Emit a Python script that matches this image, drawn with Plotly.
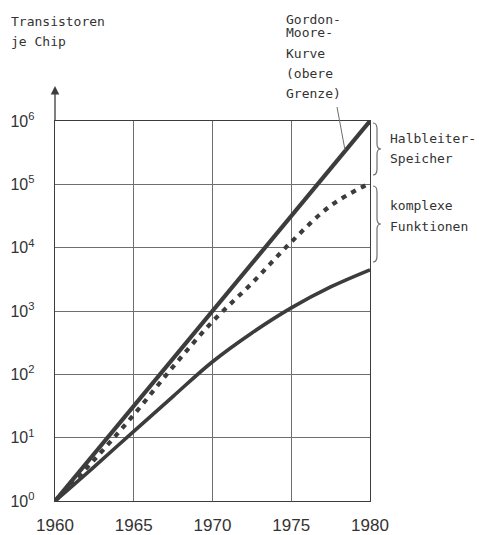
import plotly.graph_objects as go

# ---- data ----
years_moore = [1960, 1965, 1970, 1975, 1980]
moore = [1, 31.6, 1000, 31600, 1000000]

years = [1960, 1962.5, 1965, 1967.5, 1970, 1972.5, 1975, 1977.5, 1980]
halbleiter = [1, 4.5, 23, 132, 680, 2750, 12300, 46000, 105000]
komplex = [1, 3.5, 12.6, 45, 158, 450, 1120, 2400, 4470]

x_ticks = [1960, 1965, 1970, 1975, 1980]
y_ticks = [1, 10, 100, 1000, 10000, 100000, 1000000]
y_ticktext = ["10<sup>%d</sup>" % i for i in range(7)]

# ---- layout geometry (pixels) ----
W, H = 479, 535
PL, PR, PT, PB = 55, 370, 121, 501


def px(x):
    return (x - PL) / (PR - PL)


def py(y):
    return (PB - y) / (PB - PT)


INK = "#3c3c3c"
GRID = "#6e6e6e"
MONO = "DejaVu Sans Mono"
NARROW = "Liberation Sans Narrow, Arial Narrow, Liberation Sans, Arial"

fig = go.Figure()
fig.add_trace(go.Scatter(x=years_moore, y=moore, mode="lines",
                         line=dict(color=INK, width=4.2), hoverinfo="skip"))
fig.add_trace(go.Scatter(x=years, y=halbleiter, mode="lines",
                         line=dict(color=INK, width=4.2, dash="5px,6px", shape="spline"),
                         hoverinfo="skip"))
fig.add_trace(go.Scatter(x=years, y=komplex, mode="lines",
                         line=dict(color=INK, width=3.6, shape="spline"),
                         hoverinfo="skip"))

shapes = []
# leader line from the Gordon-Moore label to the curve
shapes.append(dict(type="line", xref="paper", yref="paper",
                   x0=px(337), y0=py(107), x1=px(345), y1=py(150),
                   line=dict(color=GRID, width=1)))


def brace(top, bot, xl=373, xb=377, xt=381):
    mid = (top + bot) / 2
    pts = [
        ("M", [(xl, top)]),
        ("Q", [(xb, top), (xb, top + 6)]),
        ("L", [(xb, mid - 5)]),
        ("Q", [(xb, mid), (xt, mid)]),
        ("Q", [(xb, mid), (xb, mid + 5)]),
        ("L", [(xb, bot - 6)]),
        ("Q", [(xb, bot), (xl, bot)]),
    ]
    s = ""
    for cmd, ps in pts:
        s += cmd + " " + " ".join("%.5f,%.5f" % (px(a), py(b)) for a, b in ps) + " "
    return dict(type="path", xref="paper", yref="paper", path=s.strip(),
                line=dict(color=GRID, width=1.2))


shapes.append(brace(123, 175))
shapes.append(brace(186, 262))

annotations = []
# arrow on the y axis
annotations.append(dict(xref="paper", yref="paper", x=0, y=py(86), text="",
                        showarrow=True, ax=0, ay=36, arrowhead=2, arrowsize=1.3,
                        arrowwidth=1.3, arrowcolor=INK))


def label(text, x, y, size=13):
    annotations.append(dict(xref="paper", yref="paper", x=px(x), y=py(y),
                            text=text, showarrow=False, xanchor="left",
                            yanchor="middle", align="left",
                            font=dict(family=MONO, size=size, color="#333")))


label("Transistoren", 9, 21)
label("je Chip", 9, 41)
label("Gordon-", 284, 20)
label("Moore-", 284, 32)
label("Kurve", 284, 53)
label("(obere", 284, 73)
label("Grenze)", 284, 93)
label("Halbleiter-", 388, 138)
label("Speicher", 388, 158)
label("komplexe", 388, 205)
label("Funktionen", 388, 226)

fig.update_layout(
    width=W, height=H,
    margin=dict(l=PL, r=W - PR, t=PT, b=H - PB),
    paper_bgcolor="white", plot_bgcolor="white",
    showlegend=False,
    shapes=shapes, annotations=annotations,
    xaxis=dict(range=[1960, 1980], tickvals=x_ticks, showgrid=True,
               gridcolor=GRID, gridwidth=1, showline=True, mirror=True,
               linecolor=INK, linewidth=1.3, zeroline=False, ticks="",
               automargin=False, ticklabelstandoff=8,
               tickfont=dict(family=NARROW, size=17, color="#333")),
    yaxis=dict(type="log", range=[0, 6], tickvals=y_ticks, ticktext=y_ticktext,
               showgrid=True, gridcolor=GRID, gridwidth=1, showline=True,
               mirror=True, linecolor=INK, linewidth=1.3, zeroline=False,
               ticks="", automargin=False, ticklabelstandoff=16,
               tickfont=dict(family=NARROW, size=16, color="#333")),
)

fig.write_html("out.html",
               config={"displayModeBar": False, "staticPlot": True},
               post_script="document.body.style.margin='0';document.body.style.overflow='hidden';")
